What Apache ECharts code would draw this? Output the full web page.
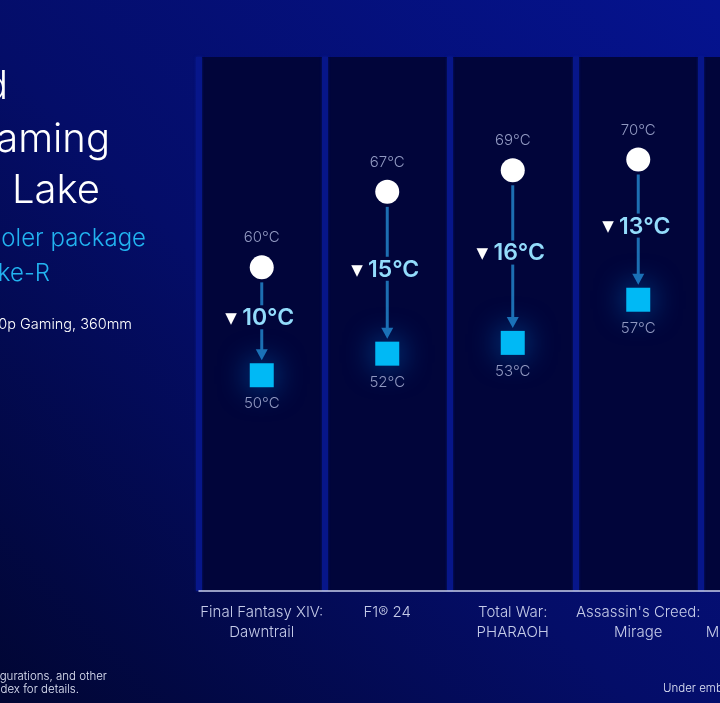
<!DOCTYPE html>
<html>
<head>
<meta charset="utf-8">
<style>
html,body{margin:0;padding:0;background:#020a4a;overflow:hidden;width:720px;height:703px;}
#chart{width:830px;height:703px;}
</style>
<script src="https://cdn.jsdelivr.net/npm/echarts@6/dist/echarts.min.js"></script>
</head>
<body>
<div id="chart"></div>
<script>
// ---- data ----
const categories = ['Final Fantasy XIV:\nDawntrail', 'F1® 24', 'Total War:\nPHARAOH', "Assassin's Creed:\nMirage", 'M'];
const beforeTemps = [60, 67, 69, 70, null];   // white circles (°C)
const afterTemps  = [50, 52, 53, 57, null];   // cyan squares (°C)
const deltaTemps  = [10, 15, 16, 13, null];   // labelled drop (°C)

const FONT = 'Inter, "Noto Sans", sans-serif';

const chart = echarts.init(document.getElementById('chart'), null, {renderer: 'canvas'});

const circleData = categories.map((c, i) => beforeTemps[i] == null ? null : [i, beforeTemps[i]]).filter(d => d);
const squareData = categories.map((c, i) => afterTemps[i] == null ? null : [i, afterTemps[i]]).filter(d => d);
const arrowData = categories.map((c, i) => beforeTemps[i] == null ? null : [i, beforeTemps[i], afterTemps[i], deltaTemps[i]]).filter(d => d);

const arrowColor = '#1d6fb2';

function txt(text, x, y, size, color, align, weight) {
  return {
    type: 'text', x: x, y: y, silent: true,
    style: {
      text: text, fill: color, align: align || 'left', verticalAlign: 'middle',
      font: (weight || 300) + ' ' + size + 'px ' + FONT
    }
  };
}

const option = {
  backgroundColor: {
    type: 'linear', x: 0, y: 703, x2: 720, y2: 0, global: true,
    colorStops: [
      {offset: 0, color: '#010633'},
      {offset: 0.45, color: '#040d68'},
      {offset: 1, color: '#05138f'}
    ]
  },
  animation: false,
  grid: {left: 199, top: 57, width: 627.5, height: 534, containLabel: false},
  xAxis: {
    type: 'category',
    data: categories,
    boundaryGap: true,
    axisLine: {show: true, lineStyle: {color: '#c9cfee', width: 1.5}},
    axisTick: {show: false},
    axisLabel: {
      color: '#c5cbe8', fontFamily: FONT, fontWeight: 300, fontSize: 15, lineHeight: 20,
      margin: 11, interval: 0,
      formatter: function (v) {
        if (v === 'M') return '\n{m|M}';
        return v;
      },
      rich: {
        m: {width: 116, align: 'left', color: '#c5cbe8', fontFamily: FONT, fontWeight: 300, fontSize: 15, lineHeight: 20}
      }
    },
    splitArea: {show: true, areaStyle: {color: ['#01053a', '#01053a']}},
    splitLine: {show: true, lineStyle: {color: '#07168a', width: 6, shadowBlur: 3, shadowColor: 'rgba(15,40,180,0.5)'}}
  },
  yAxis: {
    type: 'value', min: 30, max: 79.5,
    show: false,
    splitLine: {show: false}
  },
  graphic: [
    txt('d', 8, 87, 40, '#ffffff', 'right'),
    txt('aming', 110, 140, 40, '#ffffff', 'right'),
    txt('Lake', 100, 191, 40, '#ffffff', 'right'),
    txt('oler package', 146, 239, 24, '#22b3f0', 'right'),
    txt('ke-R', 50, 274, 24, '#22b3f0', 'right'),
    txt('0p Gaming, 360mm', 132, 325, 14.5, '#ffffff', 'right'),
    txt('gurations, and other', 107, 677, 11.5, '#dfe3f5', 'right'),
    txt('dex for details.', 79, 690, 11.5, '#dfe3f5', 'right'),
    txt('Under emb', 663, 689, 11.5, '#dfe3f5', 'left')
  ],
  series: [
    {
      type: 'custom',
      z: 2,
      data: arrowData,
      renderItem: function (params, api) {
        const i = api.value(0), b = api.value(1), a = api.value(2), d = api.value(3);
        const p1 = api.coord([i, b]);
        const p2 = api.coord([i, a]);
        const x = p1[0];
        const mid = (p1[1] + p2[1]) / 2 - 3;
        const y0 = p1[1] + 15, y1 = mid - 13, y2 = mid + 11, tip = p2[1] - 15;
        return {
          type: 'group',
          children: [
            {type: 'line', shape: {x1: x, y1: y0, x2: x, y2: y1}, style: {stroke: arrowColor, lineWidth: 3}},
            {type: 'line', shape: {x1: x, y1: y2, x2: x, y2: tip - 9}, style: {stroke: arrowColor, lineWidth: 3}},
            {type: 'polygon', shape: {points: [[x - 6, tip - 11], [x + 6, tip - 11], [x, tip]]}, style: {fill: arrowColor}},
            {
              type: 'text', x: x - 2, y: mid,
              style: {
                text: '{t|▼} {v|' + d + '°C}',
                align: 'center', verticalAlign: 'middle',
                rich: {
                  t: {fill: '#ffffff', font: '15px "DejaVu Sans", sans-serif', padding: [2, 2, 0, 0]},
                  v: {fill: '#93dcfb', font: '600 23px ' + FONT}
                }
              }
            }
          ]
        };
      }
    },
    {
      type: 'scatter',
      z: 3,
      symbol: 'circle',
      symbolSize: 24,
      data: circleData,
      itemStyle: {color: '#ffffff', opacity: 1},
      label: {
        show: true, position: 'top', distance: 10,
        formatter: p => p.value[1] + '°C',
        color: '#9098c0', fontFamily: FONT, fontWeight: 300, fontSize: 15
      }
    },
    {
      type: 'scatter',
      z: 3,
      symbol: 'rect',
      symbolSize: 24,
      data: squareData,
      itemStyle: {color: '#00b9f5', opacity: 1, shadowBlur: 30, shadowColor: 'rgba(0,150,255,0.55)'},
      label: {
        show: true, position: 'bottom', distance: 9,
        formatter: p => p.value[1] + '°C',
        color: '#9098c0', fontFamily: FONT, fontWeight: 300, fontSize: 15
      }
    }
  ]
};

chart.setOption(option);
</script>
</body>
</html>
